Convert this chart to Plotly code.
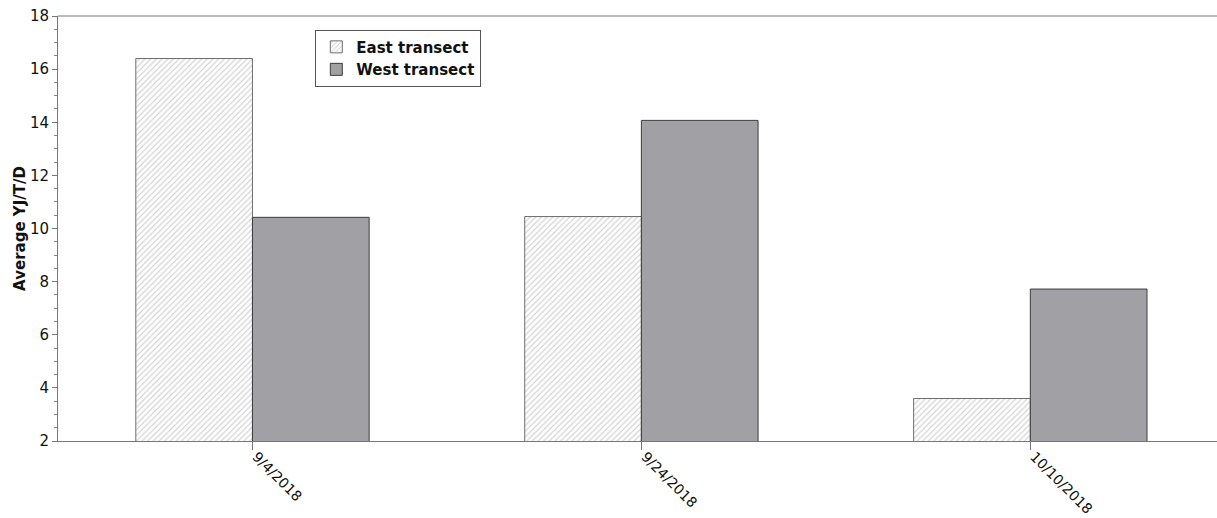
import plotly.graph_objects as go

categories = ["9/4/2018", "9/24/2018", "10/10/2018"]
east_values = [16.4, 10.45, 3.6]
west_values = [10.42, 14.07, 7.72]
series_names = ["East transect", "West transect"]

fig = go.Figure()
fig.add_trace(go.Bar(
    x=categories, y=east_values, name=series_names[0],
    marker=dict(color="white", line=dict(color="#6e6e6e", width=1),
                pattern=dict(shape="/", fgcolor="#a8a8a8", bgcolor="white", size=4, solidity=0.3)),
))
fig.add_trace(go.Bar(
    x=categories, y=west_values, name=series_names[1],
    marker=dict(color="#a1a1a5", line=dict(color="#3c3c3c", width=1)),
))

fig.update_layout(
    width=1217, height=518,
    margin=dict(l=58, r=0, t=16, b=77),
    paper_bgcolor="white", plot_bgcolor="white",
    barmode="group", bargap=0.4, bargroupgap=0,
    font=dict(family="DejaVu Sans", size=14, color="#111"),
    showlegend=True,
    legend=dict(x=0.222, y=0.968, xanchor="left", yanchor="top",
                bgcolor="white", bordercolor="#555", borderwidth=1,
                font=dict(family="DejaVu Sans", size=15, color="#111", weight="bold"),
                tracegroupgap=0, itemwidth=30),
    xaxis=dict(range=[-0.5, 2.48], showline=True, linecolor="#777", linewidth=1,
               mirror=False, ticks="outside", ticklen=8, tickcolor="#777",
               tickangle=45, showgrid=False, automargin=False,
               ticklabelstandoff=-7, ticklabelshift=4,
               tickfont=dict(family="DejaVu Sans", size=14, color="#111")),
    yaxis=dict(range=[2, 18], dtick=2, showline=True, linecolor="#777", linewidth=1,
               ticks="outside", ticklen=5, tickcolor="#777", showgrid=False, zeroline=False,
               automargin=False,
               minor=dict(dtick=0.5, ticks="outside", ticklen=3, tickcolor="#888"),
               tickfont=dict(family="DejaVu Sans", size=15, color="#111"),
               title=dict(text="<b>Average YJ/T/D</b>", standoff=0,
                          font=dict(family="DejaVu Sans", size=15, color="#111"))),
)
# top border line
fig.add_shape(type="line", xref="paper", yref="paper", x0=0, x1=1, y0=1, y1=1,
              line=dict(color="#777", width=1))

fig.write_html("out.html", config={"displayModeBar": False},
               post_script="document.body.style.margin='0';document.body.style.overflow='hidden';")
